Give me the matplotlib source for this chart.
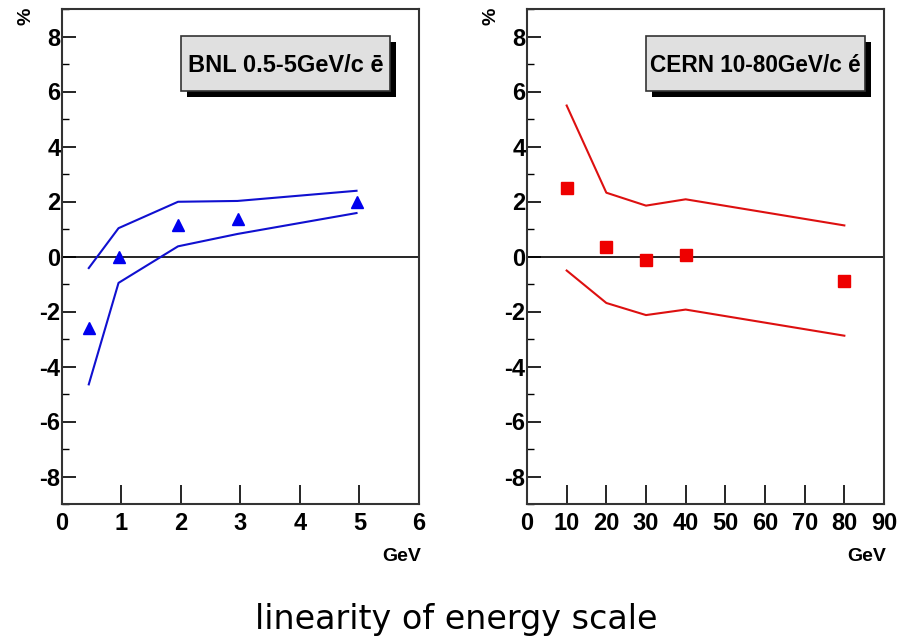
import matplotlib.pyplot as plt
from matplotlib.patches import Rectangle
from matplotlib.ticker import MultipleLocator

# BNL beam test, 0.5-5 GeV electrons
bnl_energy = [0.45, 0.95, 1.95, 2.95, 4.95]
bnl_dev = [-2.6, 0.0, 1.13, 1.38, 1.97]
bnl_upper = [-0.42, 1.03, 1.99, 2.02, 2.39]
bnl_lower = [-4.65, -0.96, 0.37, 0.82, 1.58]

# CERN beam test, 10-80 GeV electrons
cern_energy = [10, 20, 30, 40, 80]
cern_dev = [2.49, 0.33, -0.13, 0.06, -0.9]
cern_upper = [5.49, 2.32, 1.85, 2.08, 1.13]
cern_lower = [-0.51, -1.69, -2.13, -1.93, -2.88]

bnl_ticks = [0, 1, 2, 3, 4, 5, 6]
cern_ticks = [0, 10, 20, 30, 40, 50, 60, 70, 80, 90]
y_ticks = [-8, -6, -4, -2, 0, 2, 4, 6, 8]

plt.rcParams['font.family'] = ['Liberation Sans', 'DejaVu Sans']
plt.rcParams['axes.unicode_minus'] = False

fig = plt.figure(figsize=(9.12, 6.42), dpi=100)
W, H = 912, 642


def make_axes(x0, x1, y0, y1):
    return fig.add_axes([x0 / W, 1 - y1 / H, (x1 - x0) / W, (y1 - y0) / H])


def style(ax, xticks, xmax):
    ax.set_xlim(0, xmax)
    ax.set_ylim(-9, 9)
    ax.axhline(0, color='black', lw=1.2, zorder=1)
    ax.set_xticks(xticks)
    ax.set_yticks(y_ticks)
    ax.yaxis.set_minor_locator(MultipleLocator(1))
    ax.tick_params(axis='x', direction='in', length=14, width=1.2,
                   labelsize=17, pad=6)
    ax.tick_params(axis='y', which='major', direction='in', length=10,
                   width=1.2, labelsize=17, pad=1)
    ax.tick_params(axis='y', which='minor', direction='in', length=5,
                   width=1.0)
    for lbl in ax.get_xticklabels() + ax.get_yticklabels():
        lbl.set_fontweight('bold')
    for sp in ax.spines.values():
        sp.set_linewidth(1.5)
        sp.set_color('#333333')
    ax.text(1.005, -0.088, 'GeV', transform=ax.transAxes, ha='right',
            va='top', fontsize=14, fontweight='bold')
    ax.text(-0.1, 0.985, '%', transform=ax.transAxes, ha='center',
            va='center', fontsize=14, fontweight='bold', rotation=90)


def label_box(x0, x1, text, size):
    # grey box with a black drop shadow, in pixel coordinates
    y0, y1 = 36, 91
    shadow = Rectangle((x0 + 6, H - y1 - 6), x1 - x0, y1 - y0,
                       transform=None, facecolor='black', zorder=5)
    box = Rectangle((x0, H - y1), x1 - x0, y1 - y0, transform=None,
                    facecolor='#e0e0e0', edgecolor='#333333', lw=1.2,
                    zorder=6)
    fig.patches.extend([shadow, box])
    fig.text((x0 + x1) / 2 / W, 1 - (y0 + y1 + 3) / 2 / H, text,
             ha='center', va='center', fontsize=size, fontweight='bold',
             zorder=7)


ax1 = make_axes(62, 419, 9, 504)
ax1.plot(bnl_energy, bnl_upper, color='#1010d0', lw=1.5)
ax1.plot(bnl_energy, bnl_lower, color='#1010d0', lw=1.5)
ax1.plot(bnl_energy, bnl_dev, '^', color='#0000ee', ms=9, ls='none')
style(ax1, bnl_ticks, 6)

ax2 = make_axes(527, 884, 9, 504)
ax2.plot(cern_energy, cern_upper, color='#dd1010', lw=1.5)
ax2.plot(cern_energy, cern_lower, color='#dd1010', lw=1.5)
ax2.plot(cern_energy, cern_dev, 's', color='#ee0000', ms=9, ls='none')
style(ax2, cern_ticks, 90)

label_box(181, 390, 'BNL 0.5-5GeV/c ē', 17)
label_box(646, 865, 'CERN 10-80GeV/c é', 16.3)

fig.text(0.5, 1 - 620 / H, 'linearity of energy scale', ha='center',
         va='center', fontsize=24, family='DejaVu Sans')

fig.savefig('out.png', dpi=100)
